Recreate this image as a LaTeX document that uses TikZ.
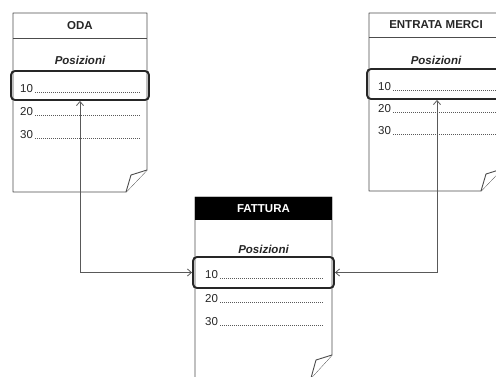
\documentclass[tikz,border=0pt]{standalone}
\usepackage{fontspec}
\setmainfont{Liberation Sans}
\usetikzlibrary{arrows.meta}
\begin{document}
\begin{tikzpicture}[x=1pt,y=-1pt,
  docline/.style={draw=black!70,line width=0.9pt,line join=round},
  hilite/.style={draw=black!85,line width=1.9pt,rounded corners=4pt,inner sep=0pt},
  link/.style={draw=black!65,line width=0.8pt,
    {Straight Barb[length=4pt,width=7pt]}-{Straight Barb[length=4pt,width=7pt]}},
  headtxt/.style={font=\fontsize{11.5}{13}\selectfont\bfseries,inner sep=0pt,text=black!85},
  postxt/.style={font=\fontsize{11.5}{13}\selectfont\bfseries\itshape,inner sep=0pt,text=black!85},
  numtxt/.style={font=\fontsize{11.5}{13}\selectfont,inner sep=0pt,anchor=base west,text=black!85},
  dots/.style={draw=black!65,line width=0.6pt,dash pattern=on 0.8pt off 1.2pt}]
\useasboundingbox (0,0) rectangle (496,376);
\begin{scope}
\clip (0,0) rectangle (496,376);

% --- ODA document ---
\draw[docline] (13,13) -- (147,13) -- (147,170) -- (126,192) -- (13,192) -- cycle;
\draw[docline,fill=white] (126,192) -- (131,175) -- (147,170);
\draw[docline] (13,38) -- (147,38);
\node[headtxt] (odaT) at (80,25.5) {ODA};
\node[postxt] (odaP) at (80,60) {Posizioni};
\node[numtxt] (odaA) at (20,92) {10};
\node[numtxt] (odaB) at (20,115) {20};
\node[numtxt] (odaC) at (20,138) {30};
\draw[dots] ([xshift=2pt]odaA.base east) -- (140,92);
\draw[dots] ([xshift=2pt]odaB.base east) -- (140,115);
\draw[dots] ([xshift=2pt]odaC.base east) -- (140,138);
\node[hilite,minimum width=138pt,minimum height=29pt] (oda10) at (80,85.5) {};

% --- ENTRATA MERCI document ---
\draw[docline] (369,13) -- (502,13) -- (502,169) -- (481,191) -- (369,191) -- cycle;
\draw[docline,fill=white] (481,191) -- (486,174) -- (502,169);
\draw[docline] (369,37) -- (502,37);
\node[headtxt] (entT) at (436,25) {ENTRATA MERCI};
\node[postxt] (entP) at (436,60) {Posizioni};
\node[numtxt] (entA) at (378,90) {10};
\node[numtxt] (entB) at (378,112) {20};
\node[numtxt] (entC) at (378,134) {30};
\draw[dots] ([xshift=2pt]entA.base east) -- (496,90);
\draw[dots] ([xshift=2pt]entB.base east) -- (496,112);
\draw[dots] ([xshift=2pt]entC.base east) -- (496,134);
\node[hilite,minimum width=140pt,minimum height=30pt] (ent10) at (437,84) {};

% --- FATTURA document ---
\draw[docline] (195,197) -- (332,197) -- (332,355) -- (311,378) -- (195,378) -- cycle;
\draw[docline,fill=white] (311,378) -- (316,360) -- (332,355);
\fill[black] (195,197) rectangle (332,220);
\node[headtxt,text=white] (fatT) at (263.5,208.5) {FATTURA};
\node[postxt] (fatP) at (263.5,249) {Posizioni};
\node[numtxt] (fatA) at (205,278) {10};
\node[numtxt] (fatB) at (205,302) {20};
\node[numtxt] (fatC) at (205,325) {30};
\draw[dots] ([xshift=2pt]fatA.base east) -- (323,278);
\draw[dots] ([xshift=2pt]fatB.base east) -- (323,302);
\draw[dots] ([xshift=2pt]fatC.base east) -- (323,325);
\node[hilite,minimum width=141pt,minimum height=31pt] (fat10) at (263.5,272.5) {};

% --- links between the matching items ---
\draw[link] (oda10.south) |- (fat10.west);
\draw[link] (ent10.south) |- (fat10.east);
\end{scope}
\end{tikzpicture}
\end{document}
